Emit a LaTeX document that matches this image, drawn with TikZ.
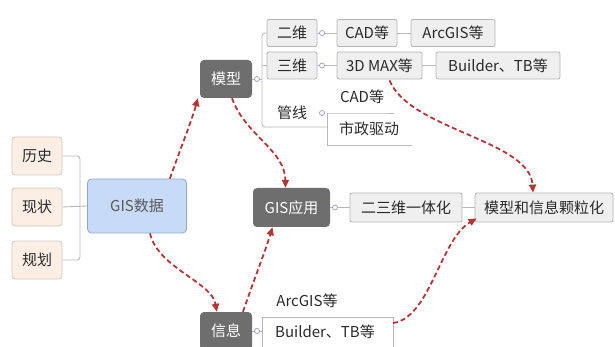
\documentclass[tikz,border=0pt]{standalone}
\usepackage{fontspec}
\setmainfont{Noto Sans CJK SC}
\usetikzlibrary{arrows.meta}
\definecolor{boxfill}{HTML}{EFEFEF}
\definecolor{boxline}{HTML}{B4B4B4}
\definecolor{srcfill}{HTML}{FBEFE5}
\definecolor{srcline}{HTML}{D5C6B8}
\definecolor{gisfill}{HTML}{C8DBF6}
\definecolor{gisline}{HTML}{8EA8D2}
\definecolor{darknode}{HTML}{6E6E6E}
\definecolor{linkc}{HTML}{B8B8B8}
\definecolor{arrowc}{HTML}{B23535}
\definecolor{txt}{HTML}{2A2A2A}
\tikzset{
  base/.style={inner sep=0pt, font=\fontsize{15}{17}\selectfont, text=txt},
  lightbox/.style={base, draw=boxline, fill=boxfill, rounded corners=2pt, line width=0.8pt, minimum height=27pt},
  srcbox/.style={base, draw=srcline, fill=srcfill, rounded corners=3pt, line width=0.8pt, minimum width=50pt, minimum height=38pt},
  gisbox/.style={base, draw=gisline, fill=gisfill, rounded corners=4pt, line width=0.8pt, minimum width=99pt, minimum height=54pt, text=black!65},
  darkbox/.style={base, fill=darknode, rounded corners=4pt, text=white},
  plain/.style={base},
  link/.style={draw=linkc, line width=0.9pt},
  knob/.style={circle, draw=blue!15!linkc, fill=white, line width=0.7pt, minimum size=5pt, inner sep=0pt},
  redarrow/.style={draw=arrowc, line width=1.8pt, dash pattern=on 5pt off 3pt, -{Triangle[length=8pt,width=7pt]}}
}
\begin{document}
\begin{tikzpicture}[x=1pt,y=-1pt]
\useasboundingbox (0,0) rectangle (615,347);
% sources
\node[srcbox] (hist) at (37,156) {历史};
\node[srcbox] (now) at (37,207) {现状};
\node[srcbox] (plan) at (37,260) {规划};
\node[gisbox] (gis) at (137,206) {GIS数据};
\coordinate (lb) at (80,206);
\draw[link, rounded corners=3pt] (hist.east) -| (lb) |- (plan.east);
\draw[link] (now.east) -- (gis.west);
% model branch
\node[darkbox, minimum width=52pt, minimum height=38pt] (model) at (226,79) {模型};
\node[lightbox, minimum width=50pt] (two) at (292,33) {二维};
\node[lightbox, minimum width=50pt] (three) at (292,65.5) {三维};
\node[lightbox, minimum width=60pt] (cad1) at (367,33) {CAD等};
\node[lightbox, minimum width=84pt] (arc1) at (453,33) {ArcGIS等};
\node[lightbox, minimum width=85pt] (max) at (379.5,65.5) {3D MAX等};
\node[lightbox, minimum width=124pt] (bld1) at (498,65.5) {Builder、TB等};
\node[plain] (pipe) at (292,113) {管线};
\node[plain] (cad2) at (362,97) {CAD等};
\node[plain] (city) at (369,129) {市政驱动};
\coordinate (mb) at (262,79);
\coordinate (pipeu) at (327,127);
\draw[link] (model.east) -- (mb);
\draw[link, rounded corners=3pt] (two.west) -| (mb) |- (pipeu);
\draw[link] (mb |- three.west) -- (three.west);
\draw[link] (two.east) -- (cad1.west);
\draw[link] (cad1.east) -- (arc1.west);
\draw[link] (three.east) -- (max.west);
\draw[link] (max.east) -- (bld1.west);
\coordinate (cu) at (327,113);
\coordinate (cityl) at (327,145);
\draw[link] (cu) -- (cityl);
\draw[link] (cu) -- (cu -| cad2.east) -- ++(10,0);
\draw[link] (cityl) -- ++(85,0);
\node[knob] at (257,79) {};
\node[knob] at (322,33) {};
\node[knob] at (322,65.5) {};
\node[knob] at (322,113) {};
% application
\node[darkbox, minimum width=77pt, minimum height=39pt] (app) at (291.5,207.5) {GIS应用};
\node[lightbox, minimum width=112pt, minimum height=29pt] (unify) at (406,207.5) {二三维一体化};
\node[lightbox, minimum width=138pt, minimum height=29pt] (gran) at (544,207.5) {模型和信息颗粒化};
\draw[link] (app.east) -- (unify.west);
\draw[link] (unify.east) -- (gran.west);
\node[knob] at (335,207.5) {};
% info branch
\node[darkbox, minimum width=52pt, minimum height=38pt] (info) at (226,331) {信息};
\node[plain] (arc2) at (307,301) {ArcGIS等};
\node[plain] (bld2) at (325,332) {Builder、TB等};
\coordinate (ib) at (262,317);
\draw[link] (info.east) -- (262,331);
\draw[link] (353,317) -- (ib) -- (262,350);
\draw[link] (ib) -- (393,317) -- (393,350);
\node[knob] at (257,331) {};
% dashed red arrows
\draw[redarrow] ([xshift=-17pt]gis.north east) .. controls (178,155) and (192,120) .. ([xshift=-2pt]model.south west);
\draw[redarrow] ([xshift=6pt]model.south) .. controls (245,135) and (285,150) .. ([xshift=-6pt]app.north);
\draw[redarrow] ([xshift=13pt]gis.south) .. controls (158,268) and (212,282) .. ([xshift=17pt]info.north west);
\draw[redarrow] ([xshift=17pt]info.north) .. controls (252,285) and (265,252) .. ([xshift=-19pt]app.south);
\draw[redarrow] ([xshift=10pt,yshift=-1pt]max.south) .. controls (410,130) and (530,140) .. ([xshift=-11pt]gran.north);
\draw[redarrow] (393,323) .. controls (430,318) and (440,240) .. ([xshift=2pt,yshift=4pt]gran.south west);
\end{tikzpicture}
\end{document}
